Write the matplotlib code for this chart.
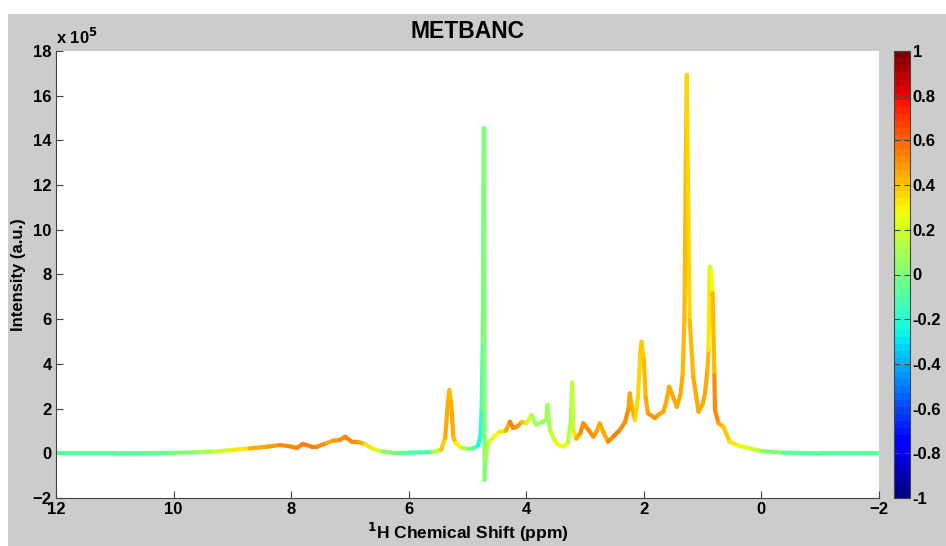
import numpy as np
import matplotlib
matplotlib.use('Agg')
import matplotlib.pyplot as plt
from matplotlib.collections import LineCollection
from matplotlib.patches import Rectangle

plt.rcParams['font.family'] = ['Liberation Sans', 'DejaVu Sans']
plt.rcParams['font.weight'] = 'bold'
plt.rcParams['mathtext.default'] = 'bf'

# chemical shift (ppm), intensity (x 1e5), correlation
ppm = [12.0, 11.5, 11.0, 10.5, 10.0, 9.6, 9.3, 9.0, 8.7, 8.4, 8.19, 8.0, 7.9, 7.8,
       7.65, 7.56, 7.4, 7.29, 7.17, 7.08, 6.97, 6.85, 6.74, 6.6, 6.45, 6.27, 6.0,
       5.8, 5.59, 5.45, 5.38, 5.33, 5.31, 5.28, 5.24, 5.2, 5.1, 5.0, 4.9, 4.82,
       4.78, 4.76, 4.74, 4.725, 4.715, 4.71, 4.69, 4.65, 4.55, 4.45, 4.35, 4.28,
       4.22, 4.15, 4.08, 4.0, 3.91, 3.83, 3.72, 3.66, 3.64, 3.6, 3.52, 3.46, 3.37,
       3.29, 3.24, 3.22, 3.2, 3.15, 3.08, 3.03, 2.94, 2.86, 2.8, 2.75, 2.68, 2.61,
       2.5, 2.41, 2.32, 2.26, 2.24, 2.2, 2.15, 2.1, 2.06, 2.04, 2.0, 1.97, 1.93,
       1.85, 1.81, 1.74, 1.67, 1.62, 1.57, 1.5, 1.44, 1.38, 1.34, 1.31, 1.29, 1.27,
       1.25, 1.22, 1.16, 1.07, 1.0, 0.96, 0.92, 0.9, 0.88, 0.86, 0.83, 0.8, 0.79,
       0.73, 0.65, 0.54, 0.4, 0.2, 0.0, -0.37, -1.0, -1.5, -2.0]
intensity = [0.0, 0.0, 0.0, 0.01, 0.02, 0.05, 0.08, 0.15, 0.22, 0.3, 0.37, 0.3, 0.24, 0.42,
             0.3, 0.3, 0.45, 0.56, 0.6, 0.74, 0.52, 0.5, 0.4, 0.18, 0.08, 0.03, 0.03,
             0.04, 0.06, 0.15, 0.7, 2.4, 2.83, 2.3, 0.7, 0.46, 0.24, 0.2, 0.22, 0.35,
             0.8, 1.94, 5.0, 14.55, 14.55, -1.2, -0.2, 0.46, 0.75, 0.97, 1.0, 1.41,
             1.13, 1.2, 1.41, 1.35, 1.71, 1.27, 1.41, 1.5, 2.16, 1.04, 0.6, 0.37, 0.3,
             0.5, 1.5, 3.16, 1.0, 0.65, 0.9, 1.34, 1.04, 0.74, 1.0, 1.34, 0.9, 0.52,
             0.8, 1.04, 1.4, 2.0, 2.68, 2.0, 1.49, 2.53, 4.5, 4.99, 4.17, 2.5, 1.79,
             1.65, 1.57, 1.75, 1.86, 2.3, 2.98, 2.5, 2.08, 2.6, 3.5, 6.0, 12.0, 16.93,
             12.0, 5.96, 3.43, 1.86, 2.2, 2.68, 3.7, 4.62, 8.35, 8.2, 7.17, 3.5, 1.94,
             1.34, 1.19, 0.52, 0.35, 0.22, 0.1, 0.03, 0.0, 0.0, 0.0]
corr = [-0.05, -0.1, -0.08, -0.05, -0.02, 0.05, 0.15, 0.28, 0.4, 0.48, 0.5, 0.5, 0.52, 0.55,
        0.55, 0.52, 0.48, 0.45, 0.5, 0.55, 0.55, 0.5, 0.4, 0.28, 0.1, 0.0, -0.08,
        -0.12, -0.1, 0.35, 0.45, 0.44, 0.42, 0.44, 0.46, 0.4, 0.2, 0.05, -0.05, -0.2,
        -0.25, -0.15, -0.05, 0.0, 0.02, 0.0, 0.05, 0.18, 0.25, 0.3, 0.38, 0.55,
        0.52, 0.5, 0.48, 0.3, 0.1, 0.1, 0.05, 0.1, 0.05, 0.12, 0.22, 0.28, 0.28,
        0.22, 0.05, 0.1, 0.22, 0.42, 0.5, 0.5, 0.55, 0.5, 0.46, 0.46, 0.42, 0.46,
        0.55, 0.55, 0.5, 0.5, 0.46, 0.46, 0.42, 0.32, 0.4, 0.4, 0.4, 0.42, 0.46,
        0.5, 0.48, 0.46, 0.46, 0.46, 0.46, 0.46, 0.46, 0.44, 0.44, 0.42, 0.42, 0.42,
        0.32, 0.38, 0.44, 0.46, 0.46, 0.46, 0.44, 0.42, 0.22, 0.15, 0.35, 0.5, 0.55,
        0.5, 0.4, 0.35, 0.28, 0.22, 0.1, -0.05, -0.1, -0.05, -0.08]

x_ticks = [12, 10, 8, 6, 4, 2, 0, -2]
y_ticks = [-2, 0, 2, 4, 6, 8, 10, 12, 14, 16, 18]
cb_ticks = [-1, -0.8, -0.6, -0.4, -0.2, 0, 0.2, 0.4, 0.6, 0.8, 1]

fig = plt.figure(figsize=(9.46, 5.46), dpi=100)
fig.patch.set_facecolor('white')
fig.patches.append(Rectangle((8 / 946, 0), 1, (546 - 14) / 546, transform=fig.transFigure,
                             facecolor='#cccccc', edgecolor='none', zorder=-10))

ax = fig.add_axes([56 / 946, 48 / 546, 823 / 946, 447 / 546])
ax.set_facecolor('white')

x = np.array(ppm)
y = np.array(intensity)
c = np.array(corr)
pts = np.column_stack([x, y]).reshape(-1, 1, 2)
segs = np.concatenate([pts[:-1], pts[1:]], axis=1)
cmap = plt.get_cmap('jet', 64)
norm = plt.Normalize(-1, 1)
lc = LineCollection(segs, cmap=cmap, norm=norm, linewidths=3, capstyle='round')
lc.set_array((c[:-1] + c[1:]) / 2)
ax.add_collection(lc)

ax.set_xlim(12, -2)
ax.set_ylim(-2, 18)
ax.set_xticks(x_ticks)
ax.set_yticks(y_ticks)
ax.tick_params(direction='in', length=5, labelsize=12, color='#444444', pad=3)
for s in ['top', 'right']:
    ax.spines[s].set_visible(False)
for s in ['left', 'bottom']:
    ax.spines[s].set_color('#444444')
ax.text(0.0, 1.008, r'x 10$^{5}$', transform=ax.transAxes, fontsize=12,
        fontweight='bold', ha='left', va='bottom')
ax.set_title('METBANC', fontsize=16.5, fontweight='bold', pad=9)
ax.set_xlabel(r'$^{1}$H Chemical Shift (ppm)', fontsize=12.5, fontweight='bold', labelpad=3)
ax.set_ylabel('Intensity (a.u.)', fontsize=12, fontweight='bold', labelpad=5)

cax = fig.add_axes([894 / 946, 48 / 546, 16 / 946, 447 / 546])
cb = fig.colorbar(lc, cax=cax, ticks=cb_ticks)
cb.ax.set_yticklabels(['-1', '-0.8', '-0.6', '-0.4', '-0.2', '0', '0.2', '0.4', '0.6', '0.8', '1'])
cb.ax.tick_params(direction='in', left=True, right=True, length=4, labelsize=12,
                  color='#444444', pad=2)
cb.outline.set_edgecolor('#444444')

fig.savefig('out.png', dpi=100, facecolor=fig.get_facecolor())
